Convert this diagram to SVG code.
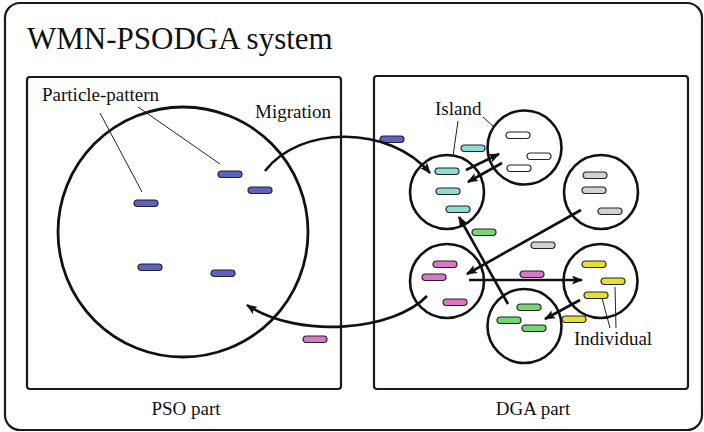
<svg xmlns="http://www.w3.org/2000/svg" width="704" height="432" viewBox="0 0 704 432">
<defs>
<style>
.frame{fill:#fff;stroke:#1a1a1a;stroke-width:2.2}
.circ{fill:none;stroke:#111;stroke-width:2.6}
.pop{fill:none;stroke:#111;stroke-width:2.8}
.arr{fill:none;stroke:#111;stroke-width:2.6;marker-end:url(#ah)}
.lead{fill:none;stroke:#222;stroke-width:1}
.ind{stroke:#222;stroke-width:1.2}
.b{fill:#5b62c2}.c{fill:#8ddcd6}.w{fill:#fff}.g{fill:#d2d2d2}.gr{fill:#76d676}.p{fill:#d878c8}.y{fill:#e8e02e}
text{font-family:"Liberation Serif","Times New Roman",serif;fill:#111}
.lbl{font-size:19px}
</style>
<marker id="ah" viewBox="0 0 10 8" refX="9" refY="4" markerWidth="11" markerHeight="9" markerUnits="userSpaceOnUse" orient="auto">
<path d="M0,0 L10,4 L0,8 L2,4 Z" fill="#111"/>
</marker>
<rect id="ind" x="0" y="0" width="24" height="6.5" rx="3.2"/>
</defs>

<g id="system">
<rect class="frame" x="5" y="3" width="697" height="427" rx="15"/>
<text x="27" y="49" font-size="31">WMN-PSODGA system</text>
</g>

<g id="pso-part">
<rect class="frame" x="27" y="77" width="314" height="312" rx="3"/>
<text class="lbl" x="186" y="415" text-anchor="middle">PSO part</text>
<circle class="pop" cx="183" cy="232" r="125"/>
<use href="#ind" class="ind b" x="218" y="171"/>
<use href="#ind" class="ind b" x="248" y="187"/>
<use href="#ind" class="ind b" x="134" y="200"/>
<use href="#ind" class="ind b" x="138" y="264"/>
<use href="#ind" class="ind b" x="211" y="270"/>
<text class="lbl" x="42" y="101">Particle-pattern</text>
<line class="lead" x1="100" y1="113" x2="142" y2="192"/>
<line class="lead" x1="138" y1="107" x2="220" y2="164"/>
<text class="lbl" x="255" y="118">Migration</text>
</g>

<g id="dga-part">
<rect class="frame" x="374" y="76" width="314" height="313" rx="3"/>
<text class="lbl" x="533" y="415" text-anchor="middle">DGA part</text>
</g>

<g id="island-cyan">
<circle class="circ" cx="447" cy="192" r="37"/>
<use href="#ind" class="ind c" x="435" y="168"/>
<use href="#ind" class="ind c" x="436" y="188"/>
<use href="#ind" class="ind c" x="446" y="206"/>
</g>
<g id="island-white">
<circle class="circ" cx="524.5" cy="147.5" r="37"/>
<use href="#ind" class="ind w" x="506" y="132"/>
<use href="#ind" class="ind w" x="527" y="153"/>
<use href="#ind" class="ind w" x="507" y="165"/>
</g>
<g id="island-gray">
<circle class="circ" cx="601" cy="192" r="37"/>
<use href="#ind" class="ind g" x="583" y="172"/>
<use href="#ind" class="ind g" x="582" y="187"/>
<use href="#ind" class="ind g" x="598" y="208"/>
</g>
<g id="island-pink">
<circle class="circ" cx="447" cy="281" r="37"/>
<use href="#ind" class="ind p" x="433" y="261"/>
<use href="#ind" class="ind p" x="422" y="274"/>
<use href="#ind" class="ind p" x="443" y="299"/>
</g>
<g id="island-yellow">
<circle class="circ" cx="600.5" cy="281" r="37"/>
<use href="#ind" class="ind y" x="582" y="261"/>
<use href="#ind" class="ind y" x="601" y="278"/>
<use href="#ind" class="ind y" x="584" y="292"/>
</g>
<g id="island-green">
<circle class="circ" cx="524.5" cy="326" r="37"/>
<use href="#ind" class="ind gr" x="517" y="304"/>
<use href="#ind" class="ind gr" x="497" y="317"/>
<use href="#ind" class="ind gr" x="522" y="325"/>
</g>

<g id="migrants">
<use href="#ind" class="ind b" x="380" y="136"/>
<use href="#ind" class="ind c" x="461" y="145"/>
<use href="#ind" class="ind gr" x="472" y="229"/>
<use href="#ind" class="ind g" x="531" y="242"/>
<use href="#ind" class="ind p" x="520" y="271"/>
<use href="#ind" class="ind y" x="562" y="316"/>
<use href="#ind" class="ind p" x="303" y="336"/>
</g>

<g id="labels">
<text class="lbl" x="435" y="115">Island</text>
<line class="lead" x1="458" y1="121" x2="453" y2="156"/>
<line class="lead" x1="483" y1="117" x2="494" y2="127"/>
<text class="lbl" x="574" y="345">Individual</text>
<line class="lead" x1="615" y1="287" x2="616" y2="328"/>
<line class="lead" x1="602" y1="298" x2="610" y2="328"/>
</g>

<g id="connectors">
<path class="arr" d="M265,171 C300,125 390,125 430,173"/>
<path class="arr" d="M427,296 C395,330 300,340 247,305"/>
<path class="arr" d="M466,170 L499,154"/>
<path class="arr" d="M502,163 L468,182"/>
<path class="arr" d="M581,210 L467,274"/>
<path class="arr" d="M469,280 L582,280"/>
<path class="arr" d="M508,304 L459,217"/>
<path class="arr" d="M580,300 L545,319"/>
</g>
</svg>
